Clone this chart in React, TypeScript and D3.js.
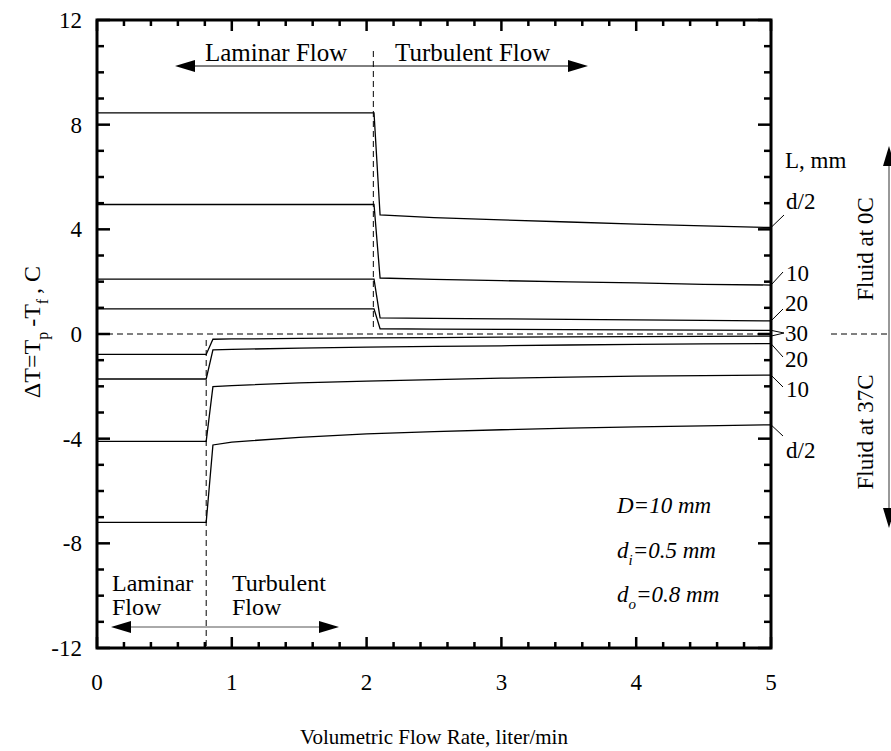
import React from "react";
import * as d3 from "d3";

// ---- data ----
const xTicks = [0, 1, 2, 3, 4, 5];
const yTicks = [-12, -8, -4, 0, 4, 8, 12];

// Fluid at 0C (transition at ~2.05 liter/min)
const coldX = [0, 2.055, 2.1, 2.5, 3, 3.5, 4, 4.5, 5];
const coldD2 = [8.45, 8.45, 4.55, 4.45, 4.36, 4.28, 4.2, 4.13, 4.07];
const cold10 = [4.95, 4.95, 2.14, 2.09, 2.04, 1.99, 1.95, 1.9, 1.87];
const cold20 = [2.1, 2.1, 0.62, 0.6, 0.58, 0.56, 0.54, 0.52, 0.5];
const cold30 = [0.96, 0.96, 0.2, 0.19, 0.18, 0.17, 0.16, 0.15, 0.14];

// Fluid at 37C (transition at ~0.81 liter/min)
const warmX = [0, 0.81, 0.86, 1, 1.5, 2, 2.5, 3, 3.5, 4, 4.5, 5];
const warmD2 = [-7.2, -7.2, -4.24, -4.13, -3.95, -3.82, -3.73, -3.66, -3.6, -3.55, -3.51, -3.47];
const warm10 = [-4.1, -4.1, -2.01, -1.97, -1.87, -1.8, -1.74, -1.69, -1.65, -1.61, -1.59, -1.57];
const warm20 = [-1.72, -1.72, -0.61, -0.59, -0.54, -0.5, -0.47, -0.45, -0.42, -0.4, -0.38, -0.37];
const warm30 = [-0.78, -0.78, -0.2, -0.19, -0.17, -0.15, -0.14, -0.12, -0.11, -0.1, -0.09, -0.08];

const coldTransition = 2.05;
const warmTransition = 0.81;

const W = 891;
const H = 751;
const L = 97, R = 771, T = 20, B = 648;
const FONT = "'Liberation Serif', 'Times New Roman', serif";

export default function App() {
  const x = d3.scaleLinear().domain([0, 5]).range([L, R]);
  const y = d3.scaleLinear().domain([-12, 12]).range([B, T]);
  const line = d3.line<[number, number]>().x((d) => x(d[0])).y((d) => y(d[1]));
  const mk = (xs: number[], ys: number[]) => line(xs.map((v, i) => [v, ys[i]] as [number, number])) || "";

  const series = [
    mk(coldX, coldD2), mk(coldX, cold10), mk(coldX, cold20), mk(coldX, cold30),
    mk(warmX, warmD2), mk(warmX, warm10), mk(warmX, warm20), mk(warmX, warm30),
  ];

  const xMinor = d3.range(0, 5.0001, 0.2);
  const yMinor = d3.range(-12, 12.0001, 1);

  const arrowHead = (tx: number, ty: number, dir: number) =>
    `M${tx},${ty} L${tx - dir * 20},${ty - 6} L${tx - dir * 20},${ty + 6} Z`;

  const lastX = 5;
  const rl = [
    { t: "d/2", v: coldD2[coldD2.length - 1], lx: 784, ly: 215, tx: 786, ty: 209 },
    { t: "10", v: cold10[cold10.length - 1], lx: 783, ly: 272, tx: 786, ty: 281 },
    { t: "20", v: cold20[cold20.length - 1], lx: 783, ly: 309, tx: 785, ty: 311 },
    { t: "20", v: warm20[warm20.length - 1], lx: 783, ly: 357, tx: 785, ty: 367 },
    { t: "10", v: warm10[warm10.length - 1], lx: 783, ly: 387, tx: 786, ty: 397 },
    { t: "d/2", v: warmD2[warmD2.length - 1], lx: 783, ly: 436, tx: 786, ty: 458 },
  ];

  return (
    <svg width={W} height={H} style={{ position: "absolute", left: 0, top: 0, background: "#fff" }} fontFamily={FONT}>
      <rect x={0} y={0} width={W} height={H} fill="#fff" />
      {/* zero dashed line */}
      <line x1={L} x2={R} y1={y(0)} y2={y(0)} stroke="#000" strokeWidth={1} strokeDasharray="6,4" />
      <line x1={831} x2={891} y1={y(0)} y2={y(0)} stroke="#000" strokeWidth={1} strokeDasharray="6,4" />
      {/* transition dashed lines */}
      <line x1={x(coldTransition)} x2={x(coldTransition)} y1={51} y2={330} stroke="#000" strokeWidth={1} strokeDasharray="6,4" />
      <line x1={x(warmTransition)} x2={x(warmTransition)} y1={340} y2={B} stroke="#000" strokeWidth={1} strokeDasharray="6,4" />

      {/* series */}
      {series.map((d, i) => (
        <path key={i} d={d} fill="none" stroke="#000" strokeWidth={1.3} />
      ))}

      {/* frame */}
      <rect x={L} y={T} width={R - L} height={B - T} fill="none" stroke="#000" strokeWidth={3} />

      {/* ticks */}
      {xMinor.map((v, i) => {
        const major = Math.abs(v - Math.round(v)) < 1e-6;
        const len = major ? 11 : 6;
        return (
          <g key={"xt" + i}>
            <line x1={x(v)} x2={x(v)} y1={B} y2={B - len} stroke="#000" strokeWidth={2.5} />
            <line x1={x(v)} x2={x(v)} y1={T} y2={T + len} stroke="#000" strokeWidth={2.5} />
          </g>
        );
      })}
      {yMinor.map((v, i) => {
        const major = v % 4 === 0;
        const len = major ? 13 : 7;
        return (
          <g key={"yt" + i}>
            <line x1={L} x2={L + len} y1={y(v)} y2={y(v)} stroke="#000" strokeWidth={2.5} />
            <line x1={R} x2={R - len} y1={y(v)} y2={y(v)} stroke="#000" strokeWidth={2.5} />
          </g>
        );
      })}

      {/* tick labels */}
      {xTicks.map((v) => (
        <text key={"xl" + v} x={x(v)} y={690} textAnchor="middle" fontSize={23}>{v}</text>
      ))}
      {yTicks.map((v) => (
        <text key={"yl" + v} x={82} y={y(v) + 8} textAnchor="end" fontSize={23}>{v}</text>
      ))}

      {/* axis titles */}
      <text x={(L + R) / 2} y={744} textAnchor="middle" fontSize={21}>Volumetric Flow Rate, liter/min</text>
      <text transform={`translate(40,${y(0) - 2}) rotate(-90)`} textAnchor="middle" fontSize={24}>
        <tspan>ΔT=T</tspan>
        <tspan fontSize={16} dy={8}>p</tspan>
        <tspan dy={-8} dx={5}>-T</tspan>
        <tspan fontSize={16} dy={8}>f</tspan>
        <tspan dy={-8} dx={5}>, C</tspan>
      </text>

      {/* top flow regime arrows */}
      <line x1={x(coldTransition)} x2={190} y1={66} y2={66} stroke="#000" strokeWidth={1} />
      <path d={arrowHead(175, 66, -1)} fill="#000" />
      <line x1={x(coldTransition)} x2={572} y1={66} y2={66} stroke="#000" strokeWidth={1} />
      <path d={arrowHead(588, 66, 1)} fill="#000" />
      <text x={205} y={61} fontSize={25}>Laminar Flow</text>
      <text x={395} y={61} fontSize={25}>Turbulent Flow</text>

      {/* bottom flow regime arrows */}
      <line x1={127} x2={323} y1={627} y2={627} stroke="#555" strokeWidth={1} />
      <path d={arrowHead(111, 627, -1)} fill="#000" />
      <path d={arrowHead(339, 627, 1)} fill="#000" />
      <text x={112} y={591} fontSize={24}>Laminar</text>
      <text x={112} y={615} fontSize={24}>Flow</text>
      <text x={232} y={591} fontSize={24}>Turbulent</text>
      <text x={232} y={615} fontSize={24}>Flow</text>

      {/* parameters */}
      <g fontStyle="italic" fontSize={23}>
        <text x={617} y={513}>D=10 mm</text>
        <text x={617} y={558}>
          <tspan>d</tspan>
          <tspan fontSize={15} dy={7}>i</tspan>
          <tspan dy={-7}>=0.5 mm</tspan>
        </text>
        <text x={617} y={602}>
          <tspan>d</tspan>
          <tspan fontSize={15} dy={7}>o</tspan>
          <tspan dy={-7}>=0.8 mm</tspan>
        </text>
      </g>

      {/* right labels */}
      <text x={785} y={168} fontSize={23}>L, mm</text>
      {rl.map((r, i) => (
        <g key={"rl" + i}>
          <line x1={x(lastX)} y1={y(r.v)} x2={r.lx} y2={r.ly} stroke="#000" strokeWidth={1} />
          <text x={r.tx} y={r.ty} fontSize={23}>{r.t}</text>
        </g>
      ))}
      <line x1={x(lastX)} y1={y(cold30[cold30.length - 1])} x2={784} y2={333} stroke="#000" strokeWidth={1} />
      <line x1={x(lastX)} y1={y(warm30[warm30.length - 1])} x2={784} y2={333} stroke="#000" strokeWidth={1} />
      <text x={785} y={341} fontSize={23}>30</text>

      {/* fluid temperature double arrow */}
      <line x1={889} x2={889} y1={165} y2={510} stroke="#333" strokeWidth={1} />
      <path d="M889,146 L883,166 L895,166 Z" fill="#000" />
      <path d="M889,528 L883,508 L895,508 Z" fill="#000" />
      <text transform="translate(873,249) rotate(-90)" textAnchor="middle" fontSize={23}>Fluid at 0C</text>
      <text transform="translate(873,432) rotate(-90)" textAnchor="middle" fontSize={23}>Fluid at 37C</text>
    </svg>
  );
}
